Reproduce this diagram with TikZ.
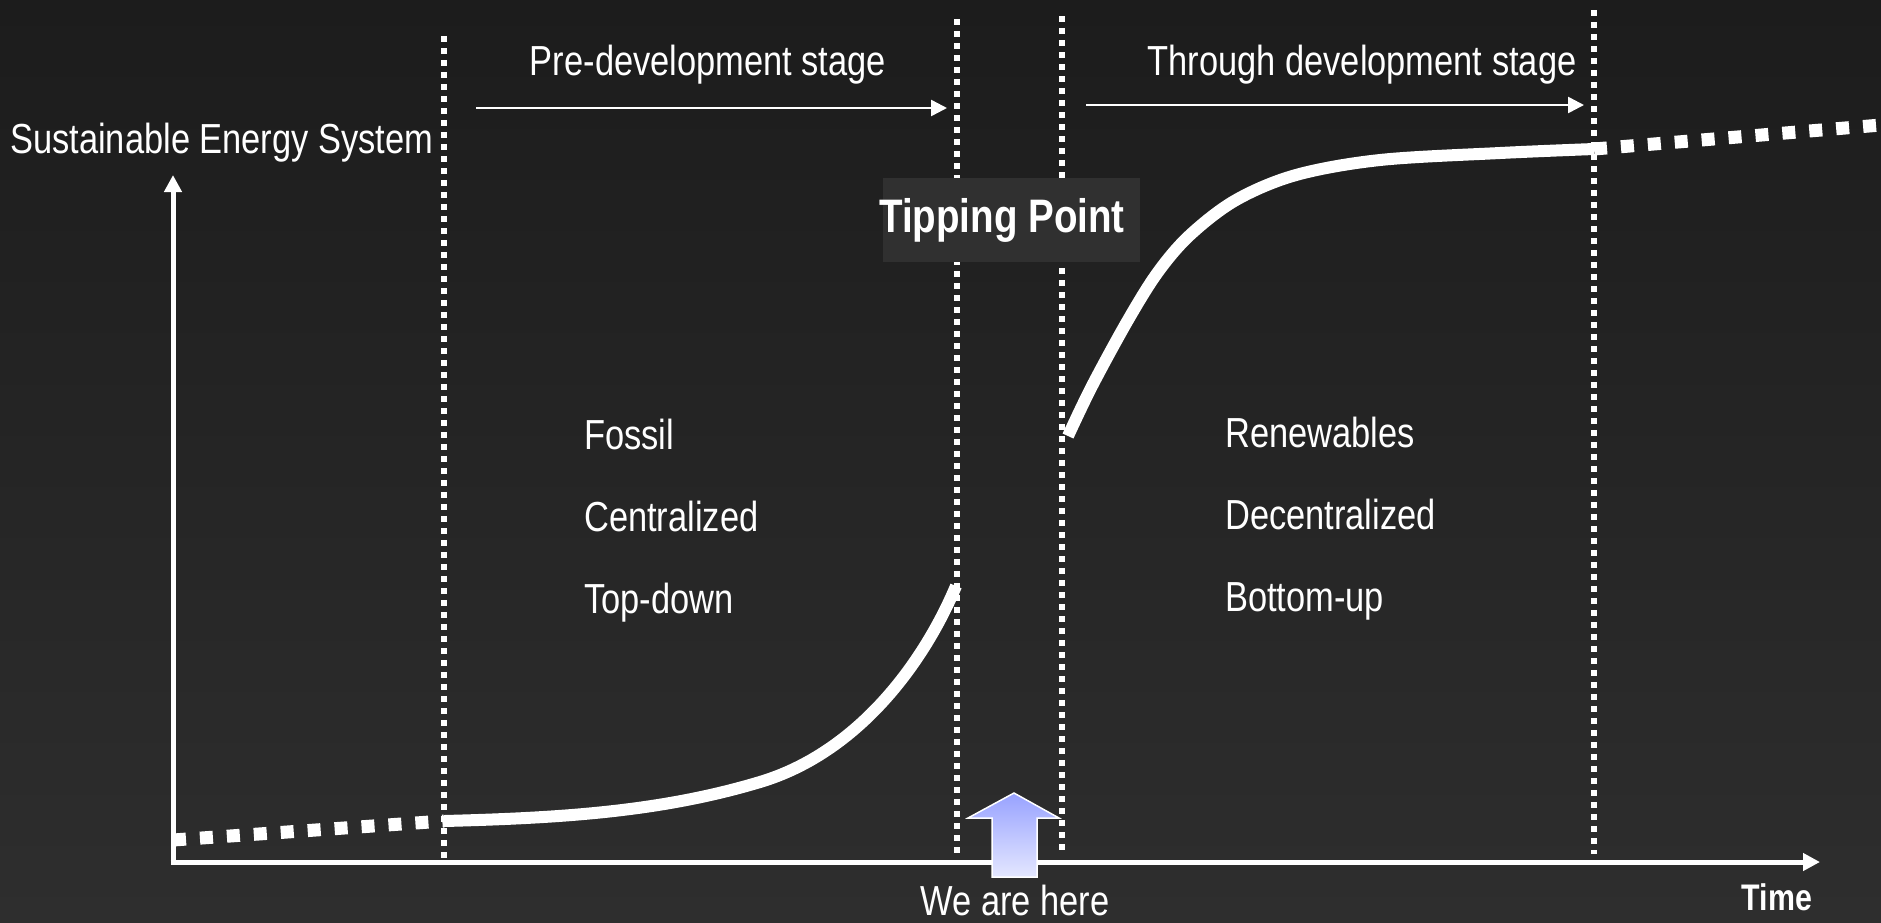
\documentclass[tikz,border=0pt]{standalone}
\usepackage{fontspec}
\setmainfont{Liberation Sans}[FakeStretch=0.82]
\usetikzlibrary{arrows.meta}
\definecolor{bgtop}{HTML}{1C1C1C}
\definecolor{bgbot}{HTML}{2E2E2E}
\definecolor{tpfill}{HTML}{303030}
\definecolor{arrtop}{HTML}{98A2FF}
\definecolor{arrbot}{HTML}{E4E7FF}
\tikzset{
  axisline/.style={white, line width=5pt, -{Triangle[length=17pt,width=17pt]}},
  stageline/.style={white, line width=2.5pt, -{Triangle[length=16pt,width=16pt]}},
  divider/.style={white, line width=5.5pt, dash pattern=on 5.5pt off 6.5pt},
  curveline/.style={white, line width=12pt, line join=round},
  dotcurve/.style={white, line width=13pt, dash pattern=on 13pt off 14pt},
  lbl/.style={text=white, font=\fontsize{42}{50}\selectfont, inner sep=0pt},
  boldlbl/.style={text=white, font=\fontsize{47}{56}\selectfont\bfseries, inner sep=0pt},
}
\begin{document}
\begin{tikzpicture}[x=1pt,y=-1pt]
\useasboundingbox (0,0) rectangle (1881,922);
\shade[top color=bgtop, bottom color=bgbot] (0,0) rectangle (1881,922);

% dividers
\coordinate (d1t) at (444,36);  \coordinate (d1b) at (444,858);
\coordinate (d2t) at (957,19);  \coordinate (d2b) at (957,854);
\coordinate (d3t) at (1062,16); \coordinate (d3b) at (1062,850);
\coordinate (d4t) at (1594,10); \coordinate (d4b) at (1594,854);
\draw[divider] (d1t) -- (d1b);
\draw[divider] (d2t) -- (d2b);
\draw[divider] (d3t) -- (d3b);
\draw[divider] (d4t) -- (d4b);

% axes
\coordinate (origin) at (173,862);
\coordinate (ytip) at (173,175);
\coordinate (xtip) at (1820,862);
\draw[axisline] (origin) -- (ytip);
\draw[axisline] ([xshift=-2.5pt]origin) -- (xtip);

% stage arrows
\coordinate (s1a) at (476,108); \coordinate (s1b) at (947,108);
\coordinate (s2a) at (1086,105); \coordinate (s2b) at (1584,105);
\draw[stageline] (s1a) -- (s1b);
\draw[stageline] (s2a) -- (s2b);

% curves
\coordinate (c0) at (173,840);
\coordinate (c1) at (444,821);
\coordinate (cm) at (760,782);
\coordinate (c2) at (956,586);
\coordinate (e1) at (1068,436);
\coordinate (e2) at (1594,149);
\coordinate (e3) at (1881,125);
\draw[dotcurve] (c0) -- (c1);
\draw[curveline] (c1) .. controls (560,818) and (660,812) .. (cm)
                      .. controls (860,752) and (925,660) .. (c2);
\draw[curveline] plot[smooth, tension=0.55] coordinates {(e1) (1092,386) (1128,320) (1158,272) (1190,235) (1236,200) (1296,175) (1380,160) (1500,153) (e2)};
\draw[dotcurve] (e2) -- (e3);

% tipping point
\node[fill=tpfill, minimum width=257pt, minimum height=84pt, inner sep=0pt] (tpbox) at (1011,220) {};
\node[boldlbl, anchor=base] (tp) at (1002,232) {Tipping Point};

% labels
\node[lbl, anchor=base west] (ses) at (10,153) {Sustainable Energy System};
\node[lbl, anchor=base] (pre) at (708,75) {Pre-development stage};
\node[lbl, anchor=base] (thr) at (1362,75) {Through development stage};
\node[lbl, anchor=base west] (fos) at (584,449) {Fossil};
\node[lbl, anchor=base west] (cen) at (584,531) {Centralized};
\node[lbl, anchor=base west] (top) at (584,613) {Top-down};
\node[lbl, anchor=base west] (ren) at (1225,447) {Renewables};
\node[lbl, anchor=base west] (dec) at (1225,529) {Decentralized};
\node[lbl, anchor=base west] (bot) at (1225,611) {Bottom-up};
\node[lbl, anchor=base] (here) at (1015,915) {We are here};
\node[text=white, font=\fontsize{37}{44}\selectfont\bfseries, inner sep=0pt, anchor=base] (time) at (1777,910) {Time};

% block arrow
\shade[top color=arrtop, bottom color=arrbot, draw=white, line width=1.5pt]
  (1014,793) -- (1059,818) -- (1037,818) -- (1037,877) -- (992,877) -- (992,818) -- (968,818) -- cycle;
\end{tikzpicture}
\end{document}
